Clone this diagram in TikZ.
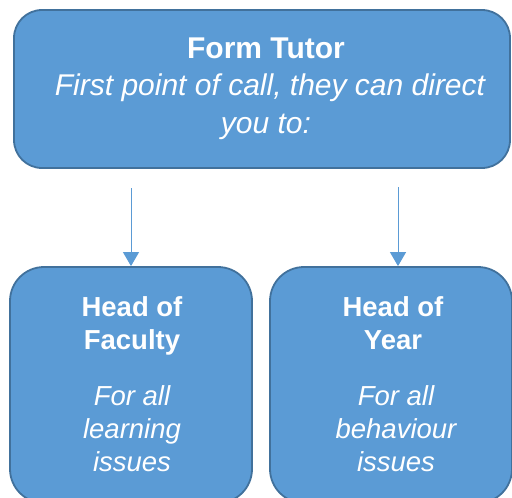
\documentclass[tikz,border=0pt]{standalone}
\usepackage{fontspec}
\setmainfont{Liberation Sans}
\usetikzlibrary{arrows.meta,positioning,calc}

\definecolor{boxfill}{HTML}{5B9BD5}
\definecolor{boxline}{HTML}{41719C}

\begin{document}
\begin{tikzpicture}[x=1pt, y=-1pt, >={Triangle[length=14pt,width=16pt]}]
        \tikzstyle{box}=[draw=boxline, fill=boxfill, line width=1.8pt, inner sep=0pt]
        \tikzstyle{head}=[text=white, anchor=base, inner sep=0pt, font=\bfseries]
        \tikzstyle{note}=[text=white, anchor=base, inner sep=0pt, font=\itshape]
        \tikzstyle{link}=[->, draw=boxfill, line width=1pt]

        \useasboundingbox (0,0) rectangle (512,498);
        \clip (0,0) rectangle (512,498);

        % boxes
        \node[box, rounded corners=28pt, minimum width=496pt, minimum height=158pt] (tutor) at (262,89) {};
        \node[box, rounded corners=34pt, minimum width=242pt, minimum height=236pt] (faculty) at (131,385) {};
        \node[box, rounded corners=34pt, minimum width=242pt, minimum height=236pt] (year) at (391,385) {};

        % texts
        \node[head] (t1) at (266,58.3) {\fontsize{30}{37}\selectfont Form Tutor};
        \node[note] (t2) at (270,95)   {\fontsize{30}{37}\selectfont First point of call, they can direct};
        \node[note] (t3) at (266,133.3) {\fontsize{30}{37}\selectfont you to:};

        \node[head] (f1) at (132,316.7) {\fontsize{27.5}{33}\selectfont Head of};
        \node[head] (f2) at (132,349)   {\fontsize{27.5}{33}\selectfont Faculty};
        \node[note] (f3) at (132,405)   {\fontsize{27.5}{33}\selectfont For all};
        \node[note] (f4) at (132,438)   {\fontsize{27.5}{33}\selectfont learning};
        \node[note] (f5) at (132,471.5) {\fontsize{27.5}{33}\selectfont issues};

        \node[head] (y1) at (393,316.7) {\fontsize{27.5}{33}\selectfont Head of};
        \node[head] (y2) at (393,349)   {\fontsize{27.5}{33}\selectfont Year};
        \node[note] (y3) at (396,405)   {\fontsize{27.5}{33}\selectfont For all};
        \node[note] (y4) at (396,438)   {\fontsize{27.5}{33}\selectfont behaviour};
        \node[note] (y5) at (396,471.5) {\fontsize{27.5}{33}\selectfont issues};

        % arrows
        \coordinate (s1) at (131,188);
        \coordinate (s2) at (398,187);
        \draw[link] (s1) -- (faculty.north -| s1);
        \draw[link] (s2) -- (year.north -| s2);
\end{tikzpicture}
\end{document}
